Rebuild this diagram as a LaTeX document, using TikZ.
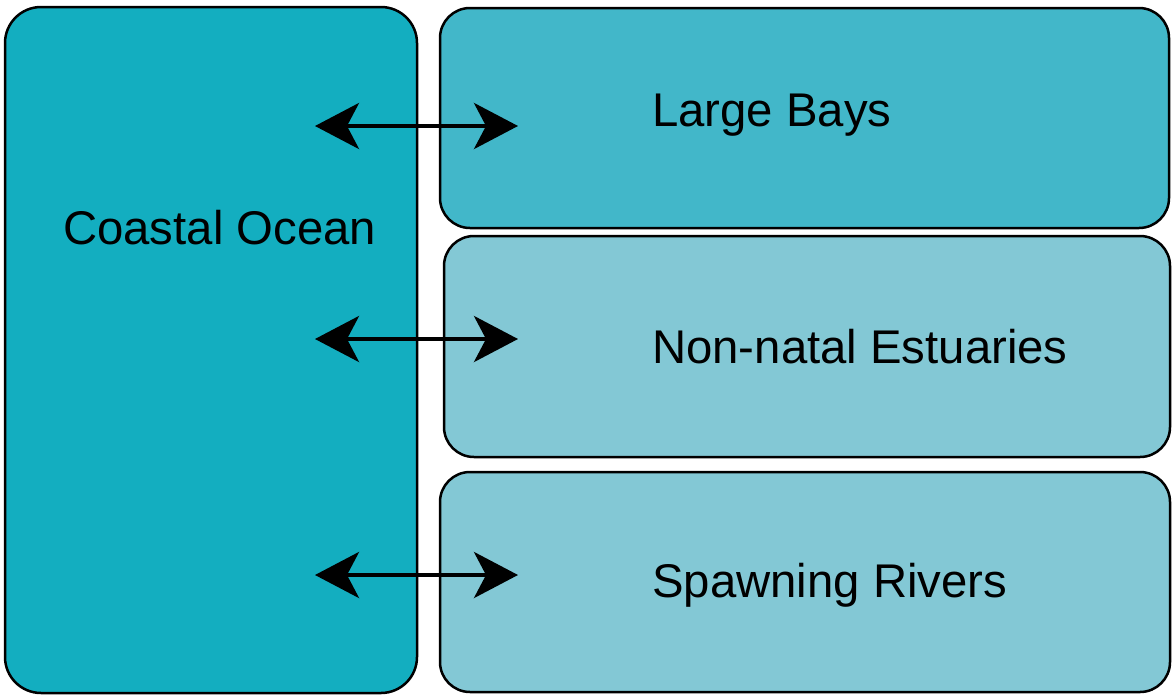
\documentclass[tikz,border=0pt]{standalone}
\usepackage{fontspec}
\setmainfont{Liberation Sans}
\usetikzlibrary{arrows.meta}
\definecolor{oceanfill}{HTML}{13AEC0}
\definecolor{bayfill}{HTML}{42B7C9}
\definecolor{rivfill}{HTML}{83C8D5}
\begin{document}
\begin{tikzpicture}[x=1pt,y=-1pt,
  region/.style={draw=black, line width=2.5pt, inner sep=0pt, outer sep=0pt},
  label/.style={font=\fontsize{47.3}{52}\selectfont, inner sep=0pt, anchor=base west},
  link/.style={line width=4pt, {Stealth[length=44pt,width=46pt,inset=12pt]}-{Stealth[length=44pt,width=46pt,inset=12pt]}}]
\useasboundingbox (0,0) rectangle (1172,699);
% habitat regions
\node[region, fill=oceanfill, rounded corners=36pt, minimum width=412pt, minimum height=686pt] (ocean) at (211,350) {};
\node[region, fill=bayfill, rounded corners=30pt, minimum width=729pt, minimum height=220pt] (bays) at (804.5,118) {};
\node[region, fill=rivfill, rounded corners=30pt, minimum width=726pt, minimum height=221pt] (estuaries) at (807,346.5) {};
\node[region, fill=rivfill, rounded corners=30pt, minimum width=730pt, minimum height=220pt] (rivers) at (805,582) {};
% labels
\node[label] (tocean) at (63,244) {Coastal Ocean};
\node[label] (tbays) at (652,126) {Large Bays};
\node[label] (testu) at (652,363) {Non-natal Estuaries};
\node[label] (trivers) at (652,597) {Spawning Rivers};
% movement between ocean and each habitat
\coordinate (o1) at (315,126); \coordinate (h1) at (518,126);
\coordinate (o2) at (315,339); \coordinate (h2) at (518,339);
\coordinate (o3) at (315,575); \coordinate (h3) at (518,575);
\draw[link] (o1) -- (h1);
\draw[link] (o2) -- (h2);
\draw[link] (o3) -- (h3);
\end{tikzpicture}
\end{document}
